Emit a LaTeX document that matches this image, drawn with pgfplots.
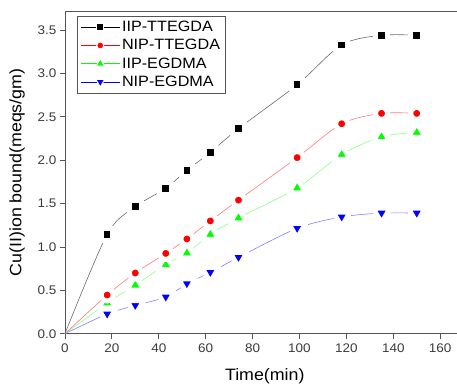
\documentclass[border=0pt]{standalone}
\usepackage{fontspec}
\setmainfont{Liberation Sans}[FakeStretch=1.08]
\usepackage{pgfplots}
\pgfplotsset{compat=1.18}

\definecolor{axisgray}{HTML}{555555}
\definecolor{ticktext}{HTML}{3A3A3A}
\definecolor{lnblack}{HTML}{6A6A6A}
\definecolor{lnred}{HTML}{FF7A7A}
\definecolor{lngreen}{HTML}{8CFF8C}
\definecolor{lnblue}{HTML}{8080FF}
\definecolor{mkgreen}{HTML}{00FF00}

% each marker carries a white rim that opens a small gap in its own curve
\tikzset{gapmark/.style={solid, draw=white, line width=5pt, line join=round}}

\begin{document}
\begin{tikzpicture}
\begin{axis}[
  scale only axis,
  width=392pt, height=323pt,
  xmin=0, xmax=167, ymin=0, ymax=3.72,
  axis x line=box, axis y line=left,
  axis line style={-, draw=axisgray, line width=0.8pt},
  xtick pos=left, ytick pos=left,
  tick align=outside,
  major tick length=5pt,
  tick style={axisgray, line width=0.8pt},
  xtick={0,20,...,160},
  ytick={0,0.5,...,3.5},
  yticklabel style={/pgf/number format/.cd, fixed, fixed zerofill, precision=1},
  /pgf/number format/assume math mode=true,
  ticklabel style={font=\fontsize{12.5}{14}\selectfont, text=ticktext},
  xticklabel style={yshift=-1.5pt},
  xlabel={Time(min)},
  ylabel={Cu(II)ion bound(meqs/gm)},
  xlabel style={font=\fontsize{16.5}{18}\selectfont, yshift=-9pt, xshift=4pt},
  ylabel style={font=\fontsize{16.5}{18}\selectfont, yshift=6pt},
  clip marker paths=true,
  legend style={at={(0.031,0.985)}, anchor=north west, draw=axisgray,
    line width=0.8pt, font=\fontsize{15}{17}\selectfont,
    row sep=2.3pt, inner xsep=3pt, inner ysep=3pt},
  legend cell align=left,
  reverse legend,
  % legend sample: a short line with the marker in its middle
  legend image code/.code={%
    \draw (0pt,0pt) -- (39pt,0pt);
    \draw[mark indices={1}] plot coordinates {(19.5pt,0pt)};},
]
% drawn bottom-up so that upper markers sit on top of lower curves
% NIP-EGDMA
\addplot[lnblue, line width=0.6pt, smooth, mark=triangle*, mark size=9.8pt,
  mark indices={2,...,11},
  mark options={gapmark, rotate=180, fill=blue},
  legend image post style={blue, mark size=5pt,
    mark options={solid, rotate=180, fill=blue, draw=white, line width=1pt}}]
  coordinates {(0,0) (18,0.227) (30,0.326) (43,0.423) (52,0.577) (62,0.707)
    (74,0.88) (99,1.215) (118,1.346) (135,1.39) (150,1.39)};
\addlegendentry{NIP-EGDMA}
% IIP-EGDMA
\addplot[lngreen, line width=0.6pt, smooth, mark=triangle*, mark size=9.8pt,
  mark indices={2,...,11},
  mark options={gapmark, fill=mkgreen},
  legend image post style={mkgreen, mark size=5pt,
    mark options={solid, fill=mkgreen, draw=white, line width=1pt}}]
  coordinates {(0,0) (18,0.354) (30,0.56) (43,0.796) (52,0.93) (62,1.145)
    (74,1.335) (99,1.68) (118,2.065) (135,2.27) (150,2.32)};
\addlegendentry{IIP-EGDMA}
% NIP-TTEGDA
\addplot[lnred, line width=0.6pt, smooth, mark=*, mark size=6pt,
  mark indices={2,...,11},
  mark options={gapmark, fill=red},
  legend image post style={red, mark size=3.5pt,
    mark options={solid, fill=red, draw=white, line width=1pt}}]
  coordinates {(0,0) (18,0.446) (30,0.70) (43,0.926) (52,1.092) (62,1.30)
    (74,1.54) (99,2.03) (118,2.42) (135,2.54) (150,2.54)};
\addlegendentry{NIP-TTEGDA}
% IIP-TTEGDA
\addplot[lnblack, line width=0.6pt, smooth, mark=square*, mark size=5.8pt,
  mark indices={2,...,11},
  mark options={gapmark, fill=black},
  legend image post style={black, mark size=3.4pt,
    mark options={solid, fill=black, draw=white, line width=1pt}}]
  coordinates {(0,0) (18,1.145) (30,1.465) (43,1.676) (52,1.884) (62,2.09)
    (74,2.365) (99,2.87) (118,3.33) (135,3.44) (150,3.44)};
\addlegendentry{IIP-TTEGDA}
\end{axis}
% frame the picture: room for labels on the left and below, a margin on top
\path (current axis.south west) ++(-65pt,-49pt) (current axis.north east) ++(0,11pt);
\end{tikzpicture}
\end{document}
